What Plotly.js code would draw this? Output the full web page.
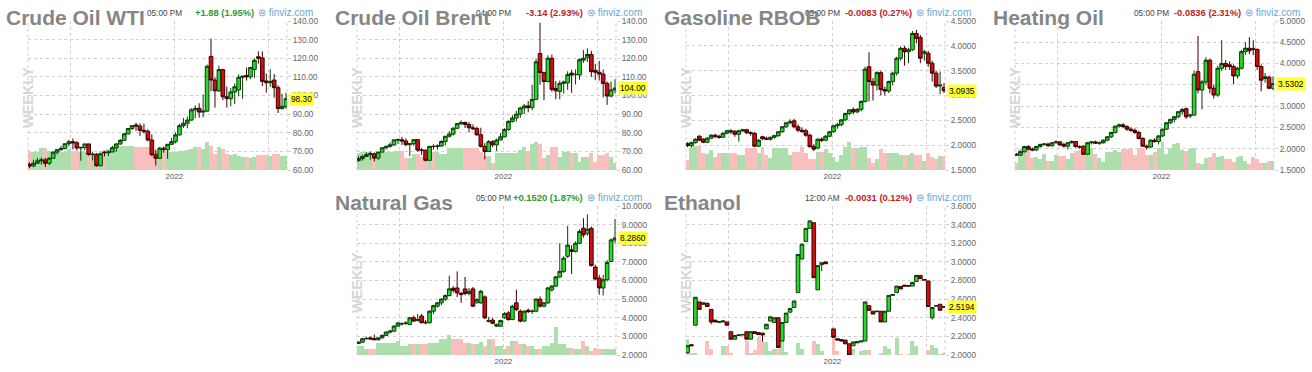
<!DOCTYPE html>
<html><head><meta charset="utf-8">
<script src="https://cdn.plot.ly/plotly-3.0.1.min.js"></script>
<style>
html,body{margin:0;padding:0;background:#fff;width:1312px;height:372px;overflow:hidden}
.p{position:absolute;width:325px;height:185px}
</style></head><body>
<div id="p0" class="p" style="left:0px;top:0px"></div>
<div id="p1" class="p" style="left:329px;top:0px"></div>
<div id="p2" class="p" style="left:658px;top:0px"></div>
<div id="p3" class="p" style="left:987px;top:0px"></div>
<div id="p4" class="p" style="left:329px;top:185px"></div>
<div id="p5" class="p" style="left:658px;top:185px"></div>
<script>
const weeks = ['2021-04-19','2021-04-26','2021-05-03','2021-05-10','2021-05-17','2021-05-24','2021-05-31','2021-06-07','2021-06-14','2021-06-21',
'2021-06-28','2021-07-05','2021-07-12','2021-07-19','2021-07-26','2021-08-02','2021-08-09','2021-08-16','2021-08-23','2021-08-30',
'2021-09-06','2021-09-13','2021-09-20','2021-09-27','2021-10-04','2021-10-11','2021-10-18','2021-10-25','2021-11-01','2021-11-08',
'2021-11-15','2021-11-22','2021-11-29','2021-12-06','2021-12-13','2021-12-20','2021-12-27','2022-01-03','2022-01-10','2022-01-17',
'2022-01-24','2022-01-31','2022-02-07','2022-02-14','2022-02-21','2022-02-28','2022-03-07','2022-03-14','2022-03-21','2022-03-28',
'2022-04-04','2022-04-11','2022-04-18','2022-04-25','2022-05-02','2022-05-09','2022-05-16','2022-05-23','2022-05-30','2022-06-06',
'2022-06-13','2022-06-20','2022-06-27','2022-07-04','2022-07-11','2022-07-18'];
const gridDates = ['2021-07-01','2022-01-01','2022-06-17'];
const gridText = ['','2022',''];

// Crude Oil WTI
const wtiO = [63.1,62.1,63.6,64.9,65.4,63.6,66.3,69.6,70.9,71.6,74.1,75.2,74.6,71.8,72.1,74.0,68.3,68.4,62.3,69.6,69.3,69.7,72.0,74.0,75.9,79.4,82.3,84.2,83.6,81.3,80.8,76.1,68.2,66.3,71.7,70.9,73.8,75.2,78.9,83.8,85.1,86.8,92.3,93.1,91.1,91.6,121.0,108.3,102.5,113.9,99.3,98.3,101.9,103.0,109.8,110.8,110.0,114.0,120.8,120.2,107.8,106.9,108.3,104.2,93.0,94.0];
const wtiH = [64.0,65.5,66.5,66.7,66.5,67.0,69.8,71.0,72.9,74.2,76.2,77.0,75.5,72.5,74.0,74.0,69.8,69.0,69.0,70.1,70.4,73.0,74.3,76.7,79.8,82.5,84.0,85.4,85.0,84.9,81.8,79.1,71.0,72.4,72.6,73.9,77.2,80.2,84.8,87.9,88.8,93.2,94.7,95.8,100.5,116.6,130.5,109.7,116.0,114.3,104.8,104.0,106.5,111.4,110.7,115.0,115.4,120.0,123.7,123.7,111.8,114.0,111.5,105.5,101.0,101.5];
const wtiL = [61.0,61.6,63.3,62.9,61.6,62.6,66.1,68.4,70.4,71.0,72.7,71.0,70.5,65.0,70.6,67.6,65.2,61.7,62.0,67.3,67.6,69.6,69.8,73.5,75.5,79.0,81.5,81.0,78.3,79.6,75.4,67.4,62.4,66.1,69.3,66.0,73.5,74.3,78.4,82.6,82.4,86.4,87.8,88.1,88.3,91.3,102.3,93.5,101.9,97.5,93.5,94.2,95.3,99.6,98.2,108.0,108.9,109.3,117.1,105.0,101.5,104.6,98.8,90.6,92.5,93.0];
const wtiC = [62.1,63.6,64.9,65.4,63.6,66.3,69.6,70.9,71.6,74.1,75.2,74.6,71.8,72.1,74.0,68.3,68.4,62.3,68.7,69.3,69.7,72.0,74.0,75.9,79.4,82.3,83.8,83.6,81.3,80.8,76.1,68.2,66.3,71.7,70.9,73.8,75.2,78.9,83.8,85.1,86.8,92.3,93.1,91.1,91.6,115.7,108.3,102.5,113.9,99.3,98.3,101.9,104.7,109.8,110.3,110.0,115.1,118.9,120.0,107.6,106.9,107.6,104.2,93.0,94.2,98.3];
const wtiV = [1700,1700,1700,2100,2100,1800,1700,1700,1700,1700,2000,1800,1800,1700,1700,1600,1600,1600,1800,1900,2000,2000,2200,2300,2300,2300,2300,2200,2200,2200,2200,2200,1700,1800,1800,1700,1700,1700,1800,1800,1900,2000,2200,2200,2000,2600,2300,1500,2200,2000,1500,1400,1500,1300,1200,1200,1100,1200,1400,1400,1400,1300,1500,1500,1300,1300];

// Crude Oil Brent
const brtO = [65.0,66.1,67.3,68.3,68.7,66.4,69.6,71.9,72.7,73.5,76.2,76.2,75.6,73.6,74.1,76.3,70.7,70.6,65.2,72.7,72.6,72.9,75.3,78.1,79.3,82.4,84.9,85.5,84.4,82.7,82.2,78.9,72.7,69.9,75.2,73.5,76.1,77.8,81.8,86.1,87.9,90.0,93.3,94.4,93.5,97.9,122.5,112.3,107.5,120.0,103.8,102.2,106.5,106.8,112.0,111.2,111.0,119.0,120.5,122.0,113.5,112.5,111.5,106.5,99.7,103.0];
const brtH = [67.5,68.0,69.5,69.8,69.4,69.8,72.3,73.1,74.9,76.4,77.0,77.8,77.0,74.3,76.5,76.3,71.8,71.0,72.3,73.7,73.7,76.0,78.3,80.8,83.0,85.1,86.7,86.1,85.8,84.5,83.3,82.7,74.4,76.1,76.0,76.9,79.8,82.4,86.7,89.5,91.7,94.0,95.5,97.0,105.8,119.8,139.1,112.8,121.6,122.0,107.7,108.0,108.0,113.0,113.8,114.0,120.0,124.4,125.3,124.0,117.0,118.5,114.0,107.5,107.5,108.7];
const brtL = [64.5,65.0,67.0,65.5,64.6,65.5,69.3,71.0,72.0,73.0,74.0,73.5,72.8,67.4,73.0,69.8,68.2,64.6,65.0,71.0,70.9,72.5,73.2,77.4,78.5,82.0,84.0,82.5,80.2,81.4,78.4,72.0,65.7,69.8,72.2,70.2,76.0,77.5,81.0,85.5,86.0,88.0,90.0,91.0,92.0,97.6,105.8,97.4,107.0,102.0,98.0,98.0,101.0,103.0,101.5,106.0,108.5,117.5,118.0,110.0,108.2,108.0,99.0,95.0,99.0,101.0];
const brtC = [66.1,67.3,68.3,68.7,66.4,69.6,71.9,72.7,73.5,76.2,76.2,75.6,73.6,74.1,76.3,70.7,70.6,65.2,72.7,72.6,72.9,75.3,78.1,79.3,82.4,84.9,85.5,84.4,82.7,82.2,78.9,72.7,69.9,75.2,73.5,76.1,77.8,81.8,86.1,87.9,90.0,93.3,94.4,93.5,97.9,118.1,112.3,107.5,120.0,103.3,102.5,106.5,107.3,111.2,111.0,111.3,119.2,120.0,122.0,112.8,112.5,111.5,106.5,99.7,103.0,104.0];
const brtV = [1700,1800,1800,1800,1700,1700,1700,1800,1800,1800,1900,1900,1200,1200,1600,1600,1300,1300,1800,1800,1800,1600,1600,2200,2200,2200,2200,2200,2200,2200,2200,1800,1400,1400,700,1700,1700,1700,1700,1700,1700,2000,2300,1900,2500,2700,2500,1200,1500,2300,2300,1300,1800,1800,1700,1700,800,1300,1300,1700,800,1500,1500,1700,1300,700];

// Gasoline RBOB
const gasO = [2.03,1.99,2.05,2.18,2.12,2.06,2.14,2.20,2.18,2.16,2.24,2.29,2.28,2.22,2.29,2.31,2.25,2.24,1.98,2.17,2.14,2.12,2.16,2.19,2.27,2.37,2.45,2.49,2.37,2.30,2.29,2.20,1.97,1.94,2.12,2.10,2.18,2.27,2.39,2.41,2.51,2.64,2.72,2.67,2.72,2.88,3.58,3.28,3.21,3.46,3.12,3.09,3.28,3.45,3.75,3.95,3.88,3.92,4.25,4.17,3.85,3.85,3.65,3.45,3.19,3.16];
const gasH = [2.06,2.07,2.14,2.20,2.14,2.16,2.22,2.23,2.21,2.26,2.31,2.32,2.30,2.31,2.33,2.33,2.28,2.26,2.12,2.19,2.17,2.17,2.21,2.28,2.38,2.47,2.52,2.53,2.42,2.36,2.33,2.23,2.02,2.14,2.16,2.20,2.28,2.40,2.45,2.52,2.65,2.72,2.76,2.75,2.90,3.58,3.87,3.35,3.49,3.50,3.18,3.30,3.48,3.78,3.99,4.00,3.96,4.30,4.32,4.22,3.92,3.90,3.70,3.50,3.48,3.25];
const gasL = [1.96,1.95,2.03,2.08,2.04,2.04,2.12,2.14,2.13,2.15,2.22,2.22,2.17,2.07,2.26,2.22,2.19,1.96,1.96,2.10,2.10,2.09,2.13,2.17,2.25,2.35,2.42,2.34,2.26,2.25,2.17,1.95,1.88,1.92,2.06,2.08,2.16,2.25,2.33,2.38,2.49,2.60,2.62,2.64,2.68,2.86,2.88,2.90,3.10,3.00,3.00,3.05,3.20,3.40,3.70,3.60,3.65,3.90,4.05,3.65,3.70,3.58,3.28,3.15,3.03,3.05];
const gasC = [1.99,2.05,2.12,2.10,2.06,2.14,2.20,2.18,2.16,2.24,2.29,2.27,2.22,2.29,2.31,2.25,2.24,1.98,2.10,2.13,2.12,2.16,2.19,2.27,2.37,2.45,2.47,2.37,2.30,2.28,2.20,1.97,1.92,2.12,2.10,2.18,2.27,2.39,2.41,2.51,2.64,2.71,2.67,2.72,2.88,3.53,3.28,3.21,3.46,3.12,3.09,3.28,3.45,3.75,3.95,3.88,3.92,4.25,4.15,3.75,3.88,3.65,3.45,3.19,3.21,3.0935];
const gasV = [100,220,240,240,170,160,200,130,170,170,170,170,170,150,150,220,220,220,170,230,150,120,220,220,220,220,150,180,180,230,170,110,110,180,180,210,170,130,80,150,230,280,220,220,230,230,120,70,110,210,170,170,170,170,150,150,150,170,150,150,90,170,130,110,140,140];

// Heating Oil
const hoO = [1.87,1.85,1.93,2.05,1.99,1.97,2.05,2.10,2.11,2.07,2.14,2.16,2.10,2.06,2.14,2.17,2.05,2.06,1.87,2.14,2.16,2.13,2.14,2.20,2.28,2.38,2.53,2.56,2.52,2.46,2.43,2.38,2.24,2.06,2.04,2.20,2.17,2.30,2.46,2.61,2.69,2.75,2.87,2.94,2.77,2.79,3.81,3.38,3.57,4.08,3.42,3.26,3.89,4.00,3.97,3.93,3.71,3.89,4.28,4.36,4.35,4.33,3.93,3.65,3.68,3.42];
const hoH = [1.90,1.95,2.07,2.08,2.03,2.07,2.12,2.13,2.14,2.16,2.20,2.18,2.14,2.16,2.20,2.18,2.08,2.08,2.16,2.18,2.19,2.17,2.22,2.29,2.40,2.54,2.59,2.60,2.55,2.50,2.48,2.42,2.27,2.10,2.22,2.25,2.32,2.47,2.62,2.70,2.77,2.88,2.96,2.97,2.82,3.84,4.65,3.62,4.15,4.12,3.50,3.95,4.55,4.08,4.05,3.98,3.92,4.32,4.50,4.62,4.55,4.36,3.98,3.78,3.72,3.70];
const hoL = [1.83,1.83,1.91,1.96,1.94,1.95,2.03,2.07,2.04,2.05,2.12,2.06,2.03,1.98,2.12,2.02,2.00,1.85,1.86,2.10,2.11,2.09,2.12,2.18,2.25,2.36,2.50,2.48,2.42,2.40,2.35,2.22,2.04,1.98,2.02,2.14,2.10,2.28,2.44,2.58,2.62,2.72,2.80,2.70,2.72,2.78,3.30,2.92,3.50,3.30,3.18,3.22,3.82,3.85,3.85,3.52,3.65,3.86,4.20,4.22,4.20,3.85,3.35,3.55,3.40,3.38];
const hoC = [1.85,1.93,2.05,1.99,1.97,2.05,2.10,2.11,2.07,2.14,2.16,2.09,2.06,2.14,2.17,2.05,2.04,1.87,2.14,2.16,2.13,2.14,2.20,2.28,2.38,2.53,2.56,2.52,2.46,2.43,2.38,2.24,2.06,2.04,2.20,2.17,2.30,2.46,2.61,2.69,2.75,2.87,2.92,2.75,2.79,3.75,3.38,3.57,4.08,3.42,3.26,3.89,4.00,3.93,3.93,3.71,3.89,4.28,4.36,4.30,4.33,3.93,3.61,3.69,3.42,3.5302];
const hoV = [70,210,210,200,120,130,110,160,90,90,150,140,140,110,170,190,200,200,210,220,160,120,80,180,180,200,180,210,210,210,150,220,220,150,150,180,220,270,160,220,250,260,200,190,210,220,70,60,120,130,170,130,140,110,110,80,130,140,90,60,130,110,70,70,90,90];

// Natural Gas
const ngO = [2.62,2.69,2.87,2.92,2.88,2.82,2.92,3.05,3.23,3.28,3.55,3.66,3.69,3.64,4.00,3.85,4.09,3.76,3.73,4.35,4.62,4.80,5.00,5.19,5.58,5.60,5.30,5.55,5.30,5.55,4.80,4.80,5.12,3.80,3.87,3.55,3.55,4.00,4.26,3.90,4.80,4.35,3.82,4.40,4.33,4.35,5.00,4.62,4.80,5.50,5.70,6.19,6.49,7.30,7.65,7.56,8.00,8.81,8.54,8.80,6.72,6.13,5.60,6.04,7.02,8.18];
const ngH = [2.72,2.92,2.98,2.99,3.10,2.96,3.10,3.27,3.33,3.60,3.78,3.76,3.82,4.05,4.12,4.20,4.20,3.88,4.40,4.70,4.85,5.05,5.25,6.26,5.70,6.49,5.40,6.19,5.60,5.65,5.05,5.50,5.20,4.05,4.00,3.68,3.90,4.30,4.35,4.70,5.50,4.45,4.40,4.50,4.45,5.05,5.15,4.85,5.65,5.75,6.25,8.00,7.30,8.93,7.90,8.10,8.75,9.34,9.55,8.90,6.85,6.30,6.30,7.10,8.25,9.30];
const ngL = [2.58,2.66,2.82,2.84,2.80,2.78,2.88,3.02,3.15,3.25,3.52,3.58,3.62,3.62,3.78,3.80,3.70,3.65,3.70,4.20,4.55,4.68,4.90,5.15,5.35,5.10,4.80,5.20,5.20,4.60,4.78,4.75,3.95,3.75,3.65,3.50,3.50,3.95,3.85,3.88,4.35,3.75,3.80,4.25,4.20,4.30,4.55,4.55,4.75,5.40,5.65,6.15,6.40,7.20,6.35,7.50,7.95,8.30,8.40,6.75,6.00,5.24,5.20,5.95,7.00,8.00];
const ngC = [2.69,2.87,2.89,2.86,2.82,2.92,3.05,3.23,3.28,3.55,3.72,3.69,3.72,4.00,3.82,3.91,3.73,3.73,4.35,4.65,4.80,5.00,5.19,5.55,5.47,5.33,5.25,5.30,5.42,4.62,4.97,5.42,3.99,3.86,3.70,3.64,3.85,4.22,3.90,4.62,4.44,3.82,4.35,4.33,4.35,5.00,4.62,4.80,5.60,5.70,6.19,6.49,7.20,7.90,7.56,8.00,8.63,8.45,8.75,6.80,6.08,5.60,6.04,6.97,8.18,8.286];
const ngV = [90,90,60,60,60,120,120,120,120,120,140,90,90,110,110,110,110,110,120,120,120,160,160,200,160,160,160,120,120,110,110,130,90,160,160,90,90,60,90,140,140,110,110,90,90,60,60,90,90,120,280,110,110,70,70,60,60,140,90,40,70,60,60,60,60,60];

// Ethanol (null = no trade that week)
const ethO = [2.025,2.11,2.32,2.57,2.545,2.555,2.49,2.375,2.35,2.355,2.355,2.25,2.17,2.21,2.215,2.25,2.17,2.25,2.24,2.235,2.28,2.365,2.35,2.40,2.15,2.35,2.46,2.51,2.67,3.03,3.22,3.36,3.42,2.70,2.97,3.00,null,2.28,2.175,2.165,2.16,2.12,2.10,2.13,2.14,2.15,2.53,2.47,2.465,2.47,2.355,2.47,2.64,2.67,2.735,2.75,2.745,2.74,2.79,2.855,2.81,2.795,2.40,2.525,2.545,2.51];
const ethH = [2.10,2.115,2.62,2.57,2.56,2.56,2.49,2.375,2.36,2.37,2.355,2.25,2.21,2.215,2.22,2.25,2.25,2.25,2.24,2.235,2.33,2.41,2.40,2.40,2.35,2.45,2.50,2.58,3.08,3.19,3.36,3.44,3.42,2.96,2.99,3.00,null,2.28,2.175,2.165,2.16,2.12,2.14,2.145,2.15,2.57,2.53,2.47,2.47,2.47,2.47,2.64,2.65,2.74,2.735,2.75,2.745,2.78,2.855,2.855,2.81,2.795,2.51,2.53,2.545,2.52];
const ethL = [2.02,2.10,2.32,2.49,2.54,2.52,2.33,2.355,2.35,2.355,2.32,2.17,2.17,2.21,2.215,2.17,2.17,2.23,2.22,2.14,2.28,2.365,2.35,2.08,2.15,2.35,2.46,2.51,2.67,3.03,3.22,3.36,2.83,2.70,2.90,2.98,null,2.19,2.16,2.15,2.12,2.00,2.10,2.13,2.14,2.15,2.48,2.44,2.46,2.355,2.355,2.47,2.64,2.67,2.71,2.74,2.74,2.74,2.79,2.82,2.805,2.52,2.38,2.525,2.48,2.51];
const ethC = [2.10,2.10,2.62,2.49,2.56,2.52,2.355,2.355,2.36,2.365,2.32,2.17,2.21,2.215,2.22,2.17,2.25,2.23,2.22,2.215,2.33,2.41,2.40,2.08,2.35,2.45,2.50,2.58,3.08,3.19,3.36,3.44,2.83,2.96,2.99,2.98,null,2.19,2.16,2.15,2.12,2.00,2.14,2.145,2.15,2.57,2.48,2.44,2.47,2.355,2.47,2.64,2.65,2.74,2.71,2.74,2.74,2.78,2.855,2.82,2.805,2.52,2.51,2.53,2.48,2.5194];
const ethV = [16,2,2,0,0,14,6,0,0,9,9,2,0,0,0,14,2,5,18,13,13,4,6,6,16,3,0,0,12,6,0,0,14,11,4,0,null,27,4,0,0,7,6,0,4,5,5,0,0,2,9,6,0,17,1,0,1,14,9,0,0,5,10,7,1,2];

const panels = [
  {id:'p0', name:'Crude Oil WTI', time:'05:00 PM', change:'+1.88 (1.95%)', up:true, o:wtiO,h:wtiH,l:wtiL,c:wtiC,v:wtiV, yr:[60,140], dt:10, dec:2},
  {id:'p1', name:'Crude Oil Brent', time:'04:00 PM', change:'-3.14 (2.93%)', up:false, o:brtO,h:brtH,l:brtL,c:brtC,v:brtV, yr:[60,140], dt:10, dec:2},
  {id:'p2', name:'Gasoline RBOB', time:'05:00 PM', change:'-0.0083 (0.27%)', up:false, o:gasO,h:gasH,l:gasL,c:gasC,v:gasV, yr:[1.5,4.5], dt:0.5, dec:4},
  {id:'p3', name:'Heating Oil', time:'05:00 PM', change:'-0.0836 (2.31%)', up:false, o:hoO,h:hoH,l:hoL,c:hoC,v:hoV, yr:[1.5,5.0], dt:0.5, dec:4},
  {id:'p4', name:'Natural Gas', time:'05:00 PM', change:'+0.1520 (1.87%)', up:true, o:ngO,h:ngH,l:ngL,c:ngC,v:ngV, yr:[2,10], dt:1, dec:4},
  {id:'p5', name:'Ethanol', time:'12:00 AM', change:'-0.0031 (0.12%)', up:false, o:ethO,h:ethH,l:ethL,c:ethC,v:ethV, yr:[2.0,3.6], dt:0.2, dec:4}
];

const SANS = 'Liberation Sans, Arial, sans-serif';
const GRID = '#d0d0d0';

function draw(p){
  const W=325, H=185, L=28, R=38, T=21, B=15;
  const pw=W-L-R, ph=H-T-B;
  const px = v => (v-L)/pw;
  const py = v => (H-B-v)/ph;
  const volColors = p.o.map((o,i)=> (p.c[i]!=null && p.c[i] >= o) ? '#acdfac' : '#f9bebe');
  const vmax = Math.max(...p.v.filter(x=>x!=null));
  const last = p.c[p.c.length-1];
  const traces = [
    {type:'bar', x:weeks, y:p.v, xaxis:'x', yaxis:'y', marker:{color:volColors, line:{width:0}}, hoverinfo:'skip'},
    {type:'candlestick', x:weeks, open:p.o, high:p.h, low:p.l, close:p.c, xaxis:'x', yaxis:'y2',
     increasing:{line:{color:'#0b3a0b', width:1}, fillcolor:'#2ad82a'},
     decreasing:{line:{color:'#3d0000', width:1}, fillcolor:'#cc1010'}, whiskerwidth:0}
  ];
  const small = {family:SANS, size:8.2, color:'#444'};
  const layout = {
    width:W, height:H, margin:{l:L, r:R, t:T, b:B, pad:0}, showlegend:false,
    paper_bgcolor:'#ffffff', plot_bgcolor:'#ffffff', bargap:0, boxgap:0.04, boxgroupgap:0.04,
    xaxis:{type:'date', range:['2021-04-16 08:00','2022-07-19 18:00'], tickvals:gridDates, ticktext:gridText,
      showgrid:true, gridcolor:GRID, griddash:'3px,3px', gridwidth:1, ticks:'', zeroline:false, showline:false,
      tickfont:{family:SANS, size:8, color:'#555'}, rangeslider:{visible:false}, fixedrange:true},
    yaxis:{range:[0, vmax*5.4], visible:false, showgrid:false, zeroline:false, fixedrange:true},
    yaxis2:{overlaying:'y', side:'right', range:p.yr, dtick:p.dt, tick0:p.yr[0], tickformat:'.'+p.dec+'f',
      showgrid:true, gridcolor:GRID, griddash:'3px,3px', gridwidth:1, ticks:'outside', ticklen:3, tickcolor:GRID,
      zeroline:false, showline:false, tickfont:{family:SANS, size:8.3, color:'#666'}, fixedrange:true},
    shapes:[
      {type:'line', xref:'paper', yref:'paper', x0:0, x1:0, y0:0, y1:1, layer:'below', line:{color:GRID, width:1, dash:'3px,3px'}},
      {type:'line', xref:'paper', yref:'paper', x0:1, x1:1, y0:0, y1:1, layer:'below', line:{color:GRID, width:1, dash:'3px,3px'}}
    ],
    annotations:[
      {text:'WEEKLY', xref:'paper', yref:'paper', x:px(17.5), y:py(97.5), textangle:-90, showarrow:false,
       font:{family:SANS, size:14.5, color:'#d6d6d6', weight:'bold'}},
      {text:p.time, xref:'paper', yref:'paper', x:px(184), xanchor:'right', y:py(13), yanchor:'middle', showarrow:false, font:small},
      {text:p.change, xref:'paper', yref:'paper', x:px(256), xanchor:'right', y:py(12.5), yanchor:'middle', showarrow:false,
       font:{family:SANS, size:9.4, weight:'bold', color:p.up ? '#2f9a2f' : '#c42121'}},
      {text:'⊜ finviz.com', xref:'paper', yref:'paper', x:px(315), xanchor:'right', y:py(12.5), yanchor:'middle', showarrow:false,
       font:{family:SANS, size:10, color:'#6aa6d6'}},
      {text:p.name, xref:'paper', yref:'paper', x:px(4), xanchor:'left', y:py(17.5), yanchor:'middle', showarrow:false,
       font:{family:SANS, size:21, weight:'bold', color:'#868686'}},
      {text:last.toFixed(p.dec), xref:'paper', yref:'y2', x:1, xanchor:'left', xshift:2, y:last, yanchor:'middle', showarrow:false,
       bgcolor:'#ffff33', borderpad:1, font:{family:SANS, size:8.3, color:'#000'}}
    ]
  };
  Plotly.newPlot(p.id, traces, layout, {staticPlot:true, displayModeBar:false});
}
panels.forEach(draw);
</script>
</body></html>
